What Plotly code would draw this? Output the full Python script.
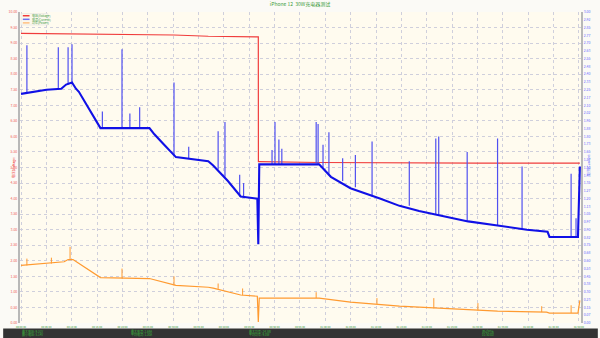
import plotly.graph_objects as go

# ---------------- data (time in minutes) ----------------
tick_minutes = [0, 5, 10, 15, 20, 25, 30, 35, 40, 45, 50, 55, 60, 65, 70, 75, 80, 85, 90, 95, 100, 105, 110]
tick_labels = ["00:00:00", "00:05:00", "00:10:00", "00:15:00", "00:20:00", "00:25:00", "00:30:00",
               "00:35:00", "00:40:00", "00:45:00", "00:50:00", "00:55:00", "01:00:00", "01:05:00",
               "01:10:00", "01:15:00", "01:20:00", "01:25:00", "01:30:00", "01:35:00", "01:40:00",
               "01:45:00", "01:50:00"]

# Voltage (V)
volt_t = [0, 20.0, 30.16, 36.92, 46.78, 46.80, 46.97, 58.77, 70.0, 90.0, 110.18]
volt_v = [9.31, 9.28, 9.26, 9.22, 9.20, 5.19, 5.19, 5.16, 5.15, 5.14, 5.14]

# Current (A) base curve
curr_t = [0, 2.13, 5.03, 7.93, 8.89, 10.05, 10.83, 11.41, 15.66, 25.32, 26.29, 28.22, 30.54,
          36.92, 37.89, 40.79, 43.30, 46.59, 46.78, 46.97, 58.77, 61.09, 64.95, 70.75, 74.62,
          78.48, 82.35, 88.15, 93.95, 99.75, 103.81, 104.19, 109.80, 110.18]
curr_a = [2.21, 2.23, 2.25, 2.26, 2.30, 2.32, 2.26, 2.23, 1.88, 1.88, 1.82, 1.72, 1.60,
          1.56, 1.52, 1.37, 1.22, 1.20, 0.76, 1.53, 1.53, 1.41, 1.30, 1.20, 1.13,
          1.08, 1.04, 0.98, 0.94, 0.90, 0.88, 0.83, 0.83, 1.51]

# Current spikes: time, base, peak
cspk_t = [1.16, 7.35, 9.28, 10.05, 16.04, 19.91, 21.46, 23.39, 30.16, 33.06, 38.86, 40.21, 43.11,
          43.88, 49.49, 50.07, 50.84, 51.42, 58.19, 58.57, 59.54, 60.70, 63.41, 65.92, 69.21,
          76.55, 81.77, 82.35, 87.96, 93.95, 98.78, 108.45, 109.42]
cspk_base = [2.22, 2.26, 2.30, 2.32, 1.88, 1.88, 1.88, 1.88, 1.61, 1.59, 1.48, 1.41, 1.22,
             1.21, 1.53, 1.53, 1.53, 1.53, 1.54, 1.53, 1.50, 1.44, 1.37, 1.31, 1.22,
             1.13, 1.05, 1.04, 0.98, 0.94, 0.91, 0.83, 0.83]
cspk_peak = [2.68, 2.66, 2.66, 2.69, 2.04, 2.64, 2.02, 2.08, 2.32, 1.70, 1.85, 1.94, 1.43,
             1.35, 1.67, 1.94, 1.77, 1.68, 1.94, 1.92, 1.72, 1.84, 1.59, 1.62, 1.75,
             1.56, 1.78, 1.80, 1.65, 1.78, 1.51, 1.44, 1.01]

# Power (W) base curve
pow_t = [0, 5.03, 8.51, 9.28, 10.25, 11.21, 15.66, 25.32, 30.54, 36.92, 37.89, 43.30, 46.59,
         46.78, 46.97, 58.77, 64.95, 74.62, 84.28, 93.95, 103.61, 104.19, 109.80, 110.18]
pow_w = [18.5, 19.1, 19.7, 20.4, 20.4, 19.4, 14.6, 14.3, 12.1, 11.5, 11.2, 9.0, 8.6,
         0.3, 8.0, 8.0, 6.7, 5.4, 4.5, 3.8, 3.5, 3.2, 3.2, 7.3]

# Power spikes: time, base, peak
pspk_t = [1.16, 5.99, 9.67, 19.91, 30.16, 38.86, 43.69, 58.19, 70.17, 81.38, 90.08, 102.65, 108.45]
pspk_base = [18.5, 19.1, 20.4, 14.3, 12.1, 11.0, 8.9, 8.0, 6.0, 4.7, 4.0, 3.5, 3.2]
pspk_peak = [20.7, 21.0, 24.5, 17.5, 15.0, 12.7, 11.1, 9.9, 8.0, 8.0, 6.4, 5.4, 5.7]

# ---------------- figure ----------------
def spike_xy(ts, bases, peaks):
    xs, ys = [], []
    for t, b, p in zip(ts, bases, peaks):
        xs += [t, t, None]
        ys += [b, p, None]
    return xs, ys

RED = "#f03c3c"
BLUE = "#1010e6"
ORANGE = "#ff9a30"
GREEN = "#3c9a3c"
FONT = "Noto Sans CJK SC, Noto Sans, sans-serif"

fig = go.Figure()

px_, py_ = spike_xy(pspk_t, pspk_base, pspk_peak)
fig.add_trace(go.Scatter(x=px_, y=py_, mode="lines", yaxis="y3",
                         line=dict(color=ORANGE, width=1), showlegend=False, hoverinfo="skip"))
fig.add_trace(go.Scatter(x=pow_t, y=pow_w, mode="lines", yaxis="y3", name="功率(Power)",
                         line=dict(color=ORANGE, width=1.2), showlegend=False))

cx_, cy_ = spike_xy(cspk_t, cspk_base, cspk_peak)
fig.add_trace(go.Scatter(x=cx_, y=cy_, mode="lines", yaxis="y2",
                         line=dict(color="#5050f0", width=1.2), showlegend=False, hoverinfo="skip"))
fig.add_trace(go.Scatter(x=curr_t, y=curr_a, mode="lines", yaxis="y2", name="电流(Current)",
                         line=dict(color=BLUE, width=2.1), showlegend=False))

fig.add_trace(go.Scatter(x=volt_t, y=volt_v, mode="lines", yaxis="y", name="电压(Voltage)",
                         line=dict(color=RED, width=1.2), showlegend=False))

grid = dict(showgrid=True, gridcolor="#cfcfdc", griddash="dot", gridwidth=1)

fig.update_layout(
    width=600, height=338,
    margin=dict(l=13, r=15, t=9, b=15),
    paper_bgcolor="#fbfaf6",
    plot_bgcolor="#fffbef",
    font=dict(family=FONT, size=4),
    title=dict(text="iPhone 12  30W充电器测试", x=0.5, xanchor="center",
               y=0.988, yanchor="middle", yref="container",
               font=dict(size=5, color=GREEN, family=FONT)),
    xaxis=dict(range=[-0.2, 110.4], tickvals=tick_minutes, ticktext=tick_labels,
               tickfont=dict(size=2.6, color=GREEN), ticks="", zeroline=False,
               ticklabelstandoff=1, showline=False, **grid),
    yaxis=dict(range=[0, 10], dtick=0.5, tickformat=".2f",
               tickfont=dict(size=3.5, color="#f06060"), ticks="", zeroline=False,
               showline=True, linecolor="#b8b8b8", linewidth=2, **grid),
    yaxis2=dict(range=[0, 3], dtick=0.075, tickformat=".2f", overlaying="y", side="right",
                tickfont=dict(size=3.5, color="#6a6aff"), ticks="", zeroline=False,
                showgrid=False, showline=True, linecolor="#b8b8b8", linewidth=2),
    yaxis3=dict(range=[0, 100], overlaying="y", visible=False),
    showlegend=False,
)

# axis titles
fig.add_annotation(text="电压(Voltage)", xref="paper", yref="paper", x=-0.019, y=0.5,
                   textangle=-90, showarrow=False, font=dict(size=3.5, color=RED))
fig.add_annotation(text="电流(Current)", xref="paper", yref="paper", x=1.021, y=0.51,
                   textangle=-90, showarrow=False, font=dict(size=3.5, color="#6a6aff"))

# manual legend
fig.add_shape(type="rect", xref="paper", yref="paper", x0=0.002, x1=0.05, y0=0.958, y1=0.995,
              fillcolor="#fbf8ee", line=dict(color="#e0e0e0", width=0.5))
leg_items = [("电压(Voltage)", RED), ("电流(Current)", "#7070f0"), ("功率(Power)", "#ffc080")]
for i, (name, col) in enumerate(leg_items):
    yy = 0.988 - i * 0.0115
    fig.add_shape(type="line", xref="paper", yref="paper", x0=0.005, x1=0.017, y0=yy, y1=yy,
                  line=dict(color=col, width=1.5))
    fig.add_annotation(text=name, xref="paper", yref="paper", x=0.018, y=yy, xanchor="left",
                       yanchor="middle", showarrow=False, font=dict(size=3, color=GREEN))

# bottom status bar
fig.add_shape(type="rect", xref="paper", yref="paper", x0=-0.03, x1=1.03, y0=-0.05, y1=-0.0175,
              fillcolor="#333333", line=dict(width=0), layer="above")
status = [(0.0, "最大电压: 9.31V", "最小电压: 5.14V"),
          (0.195, "最大电流: 2.69A", "平均电流: 1.30A"),
          (0.405, "最大功率: 24.5W", "平均功率: 9.0W"),
          (0.82, "测试时长", "01:50:00")]
for xx, l1, l2 in status:
    fig.add_annotation(text=l1, xref="paper", yref="paper", x=xx, y=-0.026, xanchor="left",
                       yanchor="middle", showarrow=False, font=dict(size=3, color="#3cb33c"))
    fig.add_annotation(text=l2, xref="paper", yref="paper", x=xx, y=-0.037, xanchor="left",
                       yanchor="middle", showarrow=False, font=dict(size=3, color="#3cb33c"))

fig.write_html("out.html")
